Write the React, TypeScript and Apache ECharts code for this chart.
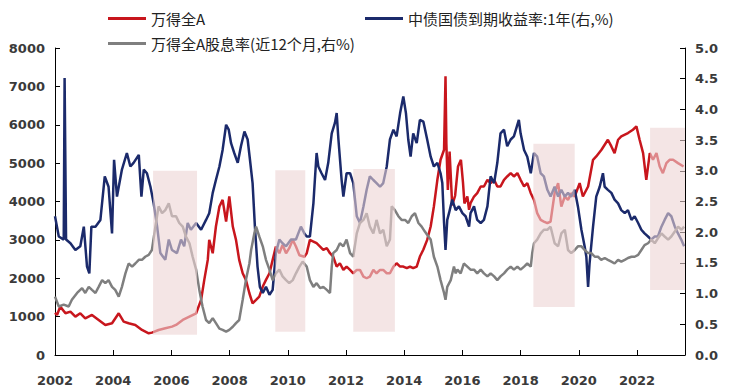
import React, { useEffect, useRef } from "react";
import * as echarts from "echarts";

const redName = "万得全A";
const navyName = "中债国债到期收益率:1年(右,%)";
const grayName = "万得全A股息率(近12个月,右%)";

// 万得全A (left axis) — date as decimal year, value
const redT = [2002.0,2002.07,2002.18,2002.36,2002.53,2002.70,2002.87,2003.04,2003.27,2003.50,2003.73,2003.96,2004.19,2004.36,2004.53,2004.76,2004.99,2005.22,2005.33,2005.56,2005.79,2006.02,2006.16,2006.39,2006.62,2006.85,2007.02,2007.13,2007.25,2007.30,2007.42,2007.53,2007.65,2007.76,2007.88,2007.99,2008.11,2008.22,2008.33,2008.45,2008.56,2008.68,2008.79,2008.91,2009.02,2009.14,2009.25,2009.37,2009.48,2009.59,2009.71,2009.82,2009.94,2010.05,2010.17,2010.28,2010.40,2010.57,2010.65,2010.76,2010.88,2010.99,2011.11,2011.22,2011.34,2011.45,2011.56,2011.68,2011.79,2011.91,2012.02,2012.14,2012.25,2012.37,2012.48,2012.60,2012.71,2012.82,2012.94,2013.05,2013.17,2013.28,2013.40,2013.51,2013.63,2013.74,2013.86,2013.97,2014.09,2014.20,2014.31,2014.43,2014.54,2014.66,2014.79,2014.91,2015.02,2015.14,2015.25,2015.37,2015.42,2015.45,2015.50,2015.56,2015.65,2015.75,2015.85,2015.95,2016.02,2016.07,2016.17,2016.23,2016.28,2016.40,2016.51,2016.63,2016.74,2016.86,2016.97,2017.09,2017.20,2017.31,2017.43,2017.54,2017.66,2017.77,2017.89,2018.00,2018.12,2018.23,2018.35,2018.46,2018.57,2018.69,2018.80,2018.92,2019.03,2019.17,2019.29,2019.40,2019.52,2019.63,2019.74,2019.86,2020.03,2020.14,2020.32,2020.49,2020.60,2020.78,2021.00,2021.12,2021.23,2021.35,2021.46,2021.69,2021.86,2021.98,2022.09,2022.21,2022.32,2022.44,2022.55,2022.67,2022.78,2022.89,2023.01,2023.12,2023.24,2023.41,2023.60];
const redV = [1100,1043,1261,1087,1130,1000,1087,957,1043,913,783,826,1087,870,826,783,652,565,583,652,696,739,783,913,1000,1087,1435,1957,2478,3000,2652,3348,3870,4043,3478,4130,3348,3000,2478,2130,1957,1609,1348,1435,1522,1783,1957,2130,2478,2826,2652,2870,2652,2783,3000,2826,2600,2560,2652,3000,2957,2913,2826,2739,2783,2652,2565,2304,2391,2217,2304,2217,2130,2217,2217,2043,2000,2043,2217,2130,2217,2217,2130,2130,2304,2391,2304,2304,2261,2304,2261,2304,2565,2750,3000,3348,3870,4565,5087,5348,7261,5500,4300,5300,3900,4150,4913,5087,4500,3950,4130,3783,3957,4130,4217,4391,4391,4565,4478,4565,4391,4391,4565,4652,4739,4652,4739,4565,4391,4478,4217,4043,3696,3522,3478,3435,3478,4217,4478,3870,4130,4043,4217,4130,4478,4130,4391,5087,5174,5348,5609,5435,5261,5609,5696,5783,5870,5957,5609,5261,4565,5261,5087,5261,4913,4739,5000,5087,5087,5000,4913];

// 中债国债到期收益率:1年 (right axis, %)
const navyT = [2002.0,2002.13,2002.30,2002.33,2002.38,2002.53,2002.70,2002.87,2002.99,2003.10,2003.18,2003.25,2003.39,2003.56,2003.71,2003.84,2003.96,2004.03,2004.13,2004.30,2004.47,2004.59,2004.70,2004.88,2004.97,2005.05,2005.16,2005.28,2005.39,2005.51,2005.62,2005.79,2005.91,2006.02,2006.19,2006.33,2006.44,2006.56,2006.67,2006.85,2007.02,2007.19,2007.30,2007.42,2007.53,2007.65,2007.76,2007.88,2007.97,2008.05,2008.16,2008.28,2008.39,2008.51,2008.62,2008.70,2008.79,2008.87,2008.96,2009.04,2009.14,2009.25,2009.37,2009.48,2009.59,2009.71,2009.82,2009.94,2010.11,2010.28,2010.45,2010.57,2010.65,2010.76,2010.88,2010.93,2010.99,2011.05,2011.16,2011.28,2011.39,2011.51,2011.62,2011.68,2011.74,2011.85,2011.91,2012.02,2012.14,2012.25,2012.37,2012.48,2012.60,2012.71,2012.82,2012.94,2013.05,2013.17,2013.28,2013.40,2013.51,2013.63,2013.74,2013.86,2013.97,2014.06,2014.14,2014.22,2014.31,2014.43,2014.54,2014.66,2014.79,2014.91,2015.02,2015.14,2015.25,2015.31,2015.37,2015.42,2015.48,2015.54,2015.65,2015.77,2015.88,2016.00,2016.11,2016.23,2016.28,2016.40,2016.51,2016.63,2016.74,2016.86,2016.97,2017.09,2017.20,2017.31,2017.43,2017.54,2017.66,2017.77,2017.94,2018.00,2018.12,2018.23,2018.35,2018.46,2018.57,2018.69,2018.80,2018.92,2019.03,2019.17,2019.29,2019.40,2019.52,2019.63,2019.74,2019.86,2019.97,2020.09,2020.20,2020.26,2020.32,2020.37,2020.49,2020.60,2020.72,2020.83,2020.89,2021.00,2021.12,2021.23,2021.35,2021.46,2021.58,2021.69,2021.81,2021.92,2022.04,2022.15,2022.26,2022.38,2022.49,2022.61,2022.72,2022.84,2022.95,2023.07,2023.18,2023.30,2023.41,2023.52,2023.62];
const navyV = [2.26,1.93,1.88,4.51,1.88,1.82,1.71,1.77,2.09,1.44,1.33,2.09,2.09,2.20,2.91,2.74,1.98,3.18,2.58,3.02,3.29,3.07,3.13,3.26,2.58,3.02,2.96,2.74,2.47,2.09,1.66,1.55,1.88,1.71,1.66,1.88,1.77,2.15,2.04,2.15,2.04,2.20,2.31,2.64,2.85,3.07,3.34,3.75,3.67,3.45,3.29,3.13,3.40,3.64,3.51,3.18,2.80,2.09,1.44,1.11,1.01,1.11,0.98,1.06,1.66,1.88,1.82,1.77,1.88,1.88,2.09,1.98,1.93,1.93,2.47,2.85,3.29,3.07,2.96,2.85,3.13,3.61,3.78,3.94,3.51,2.85,2.58,2.96,2.96,2.80,2.26,2.15,2.42,2.69,2.91,2.85,2.80,2.74,2.80,3.07,3.51,3.67,3.56,3.94,4.21,3.94,3.51,3.23,3.61,3.45,3.83,3.80,3.51,3.23,3.07,3.13,2.96,2.80,2.15,1.71,2.20,2.31,2.53,2.36,2.42,2.31,2.26,2.09,2.31,2.42,2.20,2.15,2.20,2.42,2.91,2.80,3.13,3.61,3.67,3.40,3.51,3.56,3.83,3.61,3.34,3.23,2.96,3.29,3.23,2.96,2.91,2.69,2.58,2.74,2.58,2.69,2.58,2.64,2.58,2.69,2.42,2.04,1.77,1.60,1.11,1.49,2.09,2.58,2.74,2.96,2.74,2.69,2.64,2.53,2.47,2.36,2.31,2.36,2.20,2.26,2.15,2.04,1.98,1.93,1.88,1.93,1.93,2.09,2.20,2.31,2.26,2.09,1.98,1.88,1.77];

// 万得全A股息率(近12个月) (right axis, %)
const grayT = [2002.0,2002.13,2002.30,2002.47,2002.58,2002.76,2002.93,2003.04,2003.16,2003.27,2003.39,2003.50,2003.62,2003.73,2003.84,2003.96,2004.07,2004.19,2004.30,2004.42,2004.53,2004.65,2004.76,2004.88,2004.99,2005.10,2005.22,2005.33,2005.45,2005.56,2005.68,2005.79,2005.91,2006.02,2006.16,2006.27,2006.39,2006.50,2006.62,2006.73,2006.85,2006.96,2007.07,2007.19,2007.30,2007.42,2007.53,2007.65,2007.76,2007.88,2007.99,2008.11,2008.22,2008.33,2008.45,2008.56,2008.68,2008.74,2008.85,2008.91,2009.02,2009.14,2009.25,2009.37,2009.48,2009.59,2009.71,2009.82,2009.94,2010.05,2010.17,2010.28,2010.40,2010.51,2010.65,2010.76,2010.88,2010.99,2011.11,2011.22,2011.34,2011.45,2011.51,2011.56,2011.68,2011.79,2011.91,2012.02,2012.14,2012.25,2012.37,2012.48,2012.60,2012.71,2012.82,2012.94,2013.05,2013.17,2013.28,2013.40,2013.51,2013.57,2013.68,2013.80,2013.91,2014.03,2014.14,2014.26,2014.37,2014.49,2014.60,2014.71,2014.83,2014.91,2015.02,2015.14,2015.25,2015.37,2015.42,2015.48,2015.60,2015.71,2015.77,2015.83,2015.94,2016.05,2016.17,2016.28,2016.40,2016.51,2016.63,2016.74,2016.86,2016.97,2017.09,2017.20,2017.31,2017.43,2017.54,2017.66,2017.77,2017.89,2018.00,2018.12,2018.23,2018.35,2018.40,2018.46,2018.57,2018.69,2018.80,2018.92,2019.03,2019.17,2019.29,2019.40,2019.52,2019.63,2019.74,2019.86,2019.97,2020.09,2020.20,2020.32,2020.43,2020.55,2020.66,2020.77,2020.89,2021.00,2021.12,2021.23,2021.35,2021.46,2021.58,2021.69,2021.81,2021.92,2022.04,2022.15,2022.26,2022.38,2022.49,2022.61,2022.72,2022.84,2022.95,2023.07,2023.18,2023.30,2023.41,2023.53,2023.62];
const grayV = [0.95,0.79,0.82,0.79,0.90,1.01,1.09,1.01,1.11,1.06,1.01,1.11,1.22,1.17,1.22,1.11,1.06,0.95,1.11,1.33,1.49,1.44,1.49,1.55,1.55,1.60,1.63,1.71,2.09,2.42,2.31,2.36,2.47,2.26,2.26,2.15,2.09,1.93,1.82,1.60,1.39,1.06,0.79,0.57,0.52,0.60,0.52,0.43,0.41,0.38,0.41,0.46,0.52,0.57,0.90,1.22,1.49,1.71,1.98,2.09,1.93,1.77,1.55,1.39,1.22,1.33,1.39,1.28,1.22,1.17,1.22,1.33,1.44,1.52,1.44,1.22,1.11,1.17,1.09,1.11,1.06,1.01,1.44,1.66,1.71,1.82,1.77,1.88,1.66,1.60,1.98,2.15,2.20,2.31,2.09,1.98,2.20,1.98,2.04,1.77,1.88,2.42,2.36,2.26,2.20,2.20,2.15,2.26,2.31,2.15,2.09,2.01,1.93,1.88,1.60,1.44,1.22,1.01,0.90,1.11,1.22,1.44,1.33,1.39,1.33,1.49,1.44,1.39,1.39,1.33,1.39,1.33,1.28,1.33,1.28,1.22,1.28,1.33,1.39,1.44,1.39,1.44,1.39,1.44,1.49,1.44,1.66,1.82,1.88,1.98,2.04,2.04,2.09,1.82,1.77,1.98,2.04,1.71,1.66,1.71,1.77,1.77,1.71,1.66,1.66,1.60,1.60,1.55,1.58,1.55,1.52,1.49,1.55,1.52,1.55,1.58,1.60,1.60,1.63,1.71,1.79,1.82,1.88,1.82,1.90,1.98,1.93,1.88,1.93,2.01,2.09,2.04,2.09];

// shaded periods: [startYear, endYear, low(%), high(%)]
const shadeStart = [2005.37, 2009.57, 2012.25, 2018.44, 2022.45];
const shadeEnd = [2006.88, 2010.60, 2013.68, 2019.86, 2023.65];
const shadeLow = [0.33, 0.38, 0.38, 0.78, 1.06];
const shadeHigh = [3.0, 3.01, 3.03, 3.44, 3.70];

const xTickStart = 2002;
const xEnd = 2023.65;

const pairs = (t: number[], v: number[]) => t.map((x, i) => [x, v[i]]);

const labelFont = {
  fontFamily: "DejaVu Sans",
  fontSize: 13,
  fontWeight: "bold" as const,
  color: "#3a3a3a",
};
const legendText = {
  fontFamily: "Noto Sans CJK SC",
  fontSize: 15,
  color: "#222",
};

export default function App() {
  const ref = useRef<HTMLDivElement>(null);
  useEffect(() => {
    if (!ref.current) return;
    const chart = echarts.init(ref.current, null, { renderer: "svg" });
    const legendCommon = {
      icon: "rect",
      itemWidth: 38,
      itemHeight: 3,
      textStyle: legendText,
      selectedMode: false,
    };
    chart.setOption({
      animation: false,
      backgroundColor: "#fff",
      grid: { left: 55, right: 47, top: 48, bottom: 36 },
      legend: [
        { ...legendCommon, left: 103, top: 6, data: [redName] },
        { ...legendCommon, left: 360, top: 6, data: [navyName] },
        { ...legendCommon, left: 103, top: 31, data: [grayName] },
      ],
      xAxis: {
        type: "value",
        min: xTickStart,
        max: xEnd,
        interval: 2,
        axisLine: { show: true, lineStyle: { color: "#000", width: 1 } },
        axisTick: { show: true, inside: true, length: 5, lineStyle: { color: "#000" } },
        axisLabel: { ...labelFont, margin: 19, showMaxLabel: false, formatter: (v: number) => String(v) },
        splitLine: { show: false },
      },
      yAxis: [
        {
          type: "value",
          position: "left",
          min: 0,
          max: 8000,
          interval: 1000,
          axisLine: { show: true, lineStyle: { color: "#000", width: 1 } },
          axisTick: { show: true, inside: true, length: 5, lineStyle: { color: "#000" } },
          axisLabel: { ...labelFont, margin: 10, formatter: (v: number) => String(v) },
          splitLine: { show: false },
        },
        {
          type: "value",
          position: "right",
          min: 0,
          max: 5,
          interval: 0.5,
          axisLine: { show: true, lineStyle: { color: "#000", width: 1 } },
          axisTick: { show: true, inside: true, length: 5, lineStyle: { color: "#000" } },
          axisLabel: { ...labelFont, margin: 10, formatter: (v: number) => v.toFixed(1) },
          splitLine: { show: false },
        },
      ],
      series: [
        {
          name: redName,
          type: "line",
          yAxisIndex: 0,
          showSymbol: false,
          color: "#C8161D",
          lineStyle: { width: 2.5, color: "#C8161D" },
          data: pairs(redT, redV),
        },
        {
          name: navyName,
          type: "line",
          yAxisIndex: 1,
          showSymbol: false,
          color: "#1B2A6B",
          lineStyle: { width: 2.5, color: "#1B2A6B" },
          data: pairs(navyT, navyV),
        },
        {
          name: grayName,
          type: "line",
          yAxisIndex: 1,
          showSymbol: false,
          color: "#7f7f7f",
          lineStyle: { width: 2.5, color: "#7f7f7f" },
          data: pairs(grayT, grayV),
          markArea: {
            silent: true,
            z: 10,
            itemStyle: { color: "rgba(236,212,212,0.6)" },
            data: shadeStart.map((s, i) => [
              { coord: [s, shadeLow[i]] },
              { coord: [shadeEnd[i], shadeHigh[i]] },
            ]),
          },
        },
      ],
    });
    return () => chart.dispose();
  }, []);
  return <div ref={ref} style={{ width: 732, height: 391, position: "absolute", left: 0, top: 0 }} />;
}
